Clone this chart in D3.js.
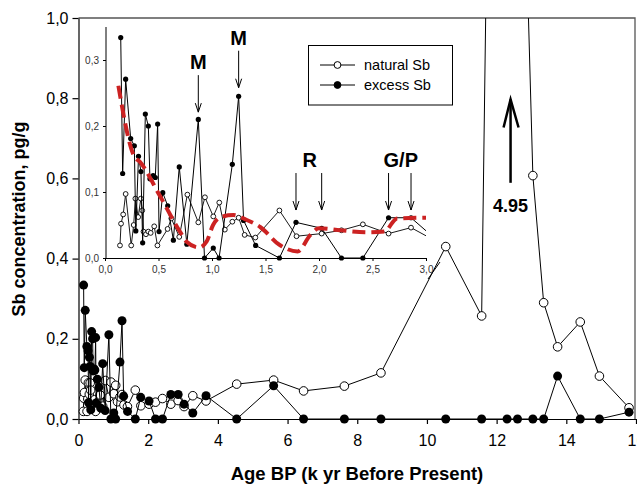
<!DOCTYPE html>
<html>
<head>
<meta charset="utf-8">
<script src="https://cdn.jsdelivr.net/npm/d3@7"></script>
<style>
  body { margin: 0; background: #fff; }
  svg { display: block; font-family: "Liberation Sans", Arial, sans-serif; }
</style>
</head>
<body>
<svg id="chart" width="637" height="484"></svg>
<script>
// natural Sb [age k yr BP, pg/g]
const naturalSb = [
  [0.14, 0.019], [0.15, 0.052], [0.17, 0.066], [0.193, 0.097], [0.245, 0.019],
  [0.268, 0.05], [0.284, 0.09], [0.31, 0.062], [0.335, 0.09], [0.348, 0.072],
  [0.36, 0.04], [0.383, 0.036], [0.405, 0.04], [0.427, 0.038], [0.46, 0.048],
  [0.49, 0.019], [0.585, 0.044], [0.62, 0.06], [0.694, 0.032], [0.77, 0.096],
  [0.872, 0.054], [0.934, 0.092], [1.012, 0.063], [1.068, 0.084], [1.12, 0.043],
  [1.19, 0.055], [1.249, 0.061], [1.305, 0.035], [1.405, 0.031], [1.63, 0.072],
  [1.79, 0.033], [2.025, 0.037], [2.21, 0.042], [2.41, 0.051], [2.65, 0.037],
  [2.86, 0.046], [3.03, 0.031], [3.28, 0.058], [3.66, 0.045], [4.54, 0.087],
  [5.6, 0.097], [6.46, 0.07], [7.63, 0.082], [8.68, 0.115], [10.54, 0.43],
  [11.57, 0.257], [12.3, 4.95], [12.6, 1.98], [13.04, 0.607], [13.35, 0.29],
  [13.75, 0.18], [14.4, 0.242], [14.95, 0.107], [15.8, 0.028]
];

// excess Sb [age k yr BP, pg/g]
const excessSb = [
  [0.147, 0.334], [0.165, 0.128], [0.193, 0.271], [0.24, 0.181], [0.274, 0.17],
  [0.288, 0.041], [0.313, 0.154], [0.336, 0.131], [0.352, 0.023], [0.377, 0.218],
  [0.405, 0.2], [0.42, 0.12], [0.45, 0.125], [0.47, 0.122], [0.492, 0.203],
  [0.505, 0.04], [0.54, 0.099], [0.586, 0.079], [0.639, 0.027], [0.694, 0.138],
  [0.765, 0.021], [0.872, 0.21], [0.93, 0], [1.012, 0.015], [1.066, 0],
  [1.19, 0.142], [1.249, 0.245], [1.295, 0.057], [1.408, 0.019], [1.63, 0],
  [1.785, 0.054], [2.025, 0.045], [2.21, 0], [2.41, 0], [2.65, 0.061],
  [2.86, 0.061], [3.03, 0.037], [3.28, 0.015], [3.66, 0.058], [4.54, 0],
  [5.6, 0.083], [6.46, 0], [7.63, 0], [8.68, 0], [10.54, 0], [11.57, 0],
  [12.3, 0], [12.6, 0], [13.04, 0], [13.35, 0], [13.75, 0.107], [14.4, 0],
  [14.95, 0], [15.8, 0.017]
];

// red dashed trend in the inset
const trendLine = [
  [0.125, 0.261], [0.27, 0.155], [0.33, 0.145], [0.51, 0.095], [0.7, 0.04],
  [0.76, 0.025], [0.88, 0.016], [0.95, 0.025], [1.01, 0.05], [1.08, 0.062],
  [1.2, 0.065], [1.32, 0.058], [1.45, 0.047], [1.63, 0.02], [1.8, 0.01],
  [1.92, 0.035], [2.0, 0.045], [2.2, 0.042], [2.46, 0.039], [2.61, 0.04],
  [2.73, 0.06], [3.0, 0.061]
];

const mainXTicks = [0, 2, 4, 6, 8, 10, 12, 14, 16];
const mainYTicks = [0, 0.2, 0.4, 0.6, 0.8, 1.0];
const insetXTicks = [0, 0.5, 1, 1.5, 2, 2.5, 3];
const insetYTicks = [0, 0.1, 0.2, 0.3];

// event labels (ages the arrows point at)
const events = [
  { label: 'M', ages: [0.872] },
  { label: 'M', ages: [1.249] },
  { label: 'R', ages: [1.785, 2.025] },
  { label: 'G/P', ages: [2.65, 2.86] }
];

const svg = d3.select('#chart');
const comma = d => d3.format('.1f')(d).replace('.', ',');
const FONT = '"Liberation Sans", Arial, sans-serif';

// ---- main plot ----
const x = d3.scaleLinear().domain([0, 16]).range([78.5, 636]);
const y = d3.scaleLinear().domain([0, 1]).range([419, 18]);

const defs = svg.append('defs');
defs.append('clipPath').attr('id', 'clipMain')
  .append('rect').attr('x', 70).attr('y', 18).attr('width', 580).attr('height', 410);

// frame
svg.append('path')
  .attr('d', `M${x(0)},${y(1)}H${x(16) - 1}V${y(0)}`)
  .attr('fill', 'none').attr('stroke', '#555').attr('stroke-width', 1.3);

const xAxis = svg.append('g').attr('transform', `translate(0,${y(0)})`)
  .call(d3.axisBottom(x).tickValues(mainXTicks).tickSize(5).tickSizeOuter(0).tickPadding(11).tickFormat(d3.format('d')));
const yAxis = svg.append('g').attr('transform', `translate(${x(0)},0)`)
  .call(d3.axisLeft(y).tickValues(mainYTicks).tickSize(6).tickSizeOuter(0).tickPadding(4).tickFormat(comma));
[xAxis, yAxis].forEach(g => {
  g.select('.domain').attr('stroke', '#000').attr('stroke-width', 1.2);
  g.selectAll('.tick line').attr('stroke', '#000').attr('stroke-width', 1.2);
  g.selectAll('text').attr('font-size', 16).attr('fill', '#000').attr('font-family', FONT);
});

svg.append('text').attr('x', 357).attr('y', 480).attr('text-anchor', 'middle')
  .attr('font-size', 18.5).attr('font-weight', 'bold').text('Age BP (k yr Before Present)');
svg.append('text').attr('transform', 'translate(25,219) rotate(-90)').attr('text-anchor', 'middle')
  .attr('font-size', 18).attr('font-weight', 'bold').text('Sb concentration, pg/g');

const mainLine = d3.line().x(d => x(d[0])).y(d => y(d[1]));
const mainG = svg.append('g').attr('clip-path', 'url(#clipMain)');

mainG.append('path').datum(naturalSb).attr('d', mainLine)
  .attr('fill', 'none').attr('stroke', '#000').attr('stroke-width', 1);
mainG.selectAll('circle.nat').data(naturalSb).join('circle').attr('class', 'nat')
  .attr('cx', d => x(d[0])).attr('cy', d => y(d[1])).attr('r', 4.3)
  .attr('fill', '#fff').attr('stroke', '#000').attr('stroke-width', 1);
mainG.append('path').datum(excessSb).attr('d', mainLine)
  .attr('fill', 'none').attr('stroke', '#000').attr('stroke-width', 1);
mainG.selectAll('circle.exc').data(excessSb).join('circle').attr('class', 'exc')
  .attr('cx', d => x(d[0])).attr('cy', d => y(d[1])).attr('r', 4.5)
  .attr('fill', '#000');

// 4.95 arrow
const peakX = x(12.4);
svg.append('line').attr('x1', peakX).attr('x2', peakX).attr('y1', y(0.589)).attr('y2', y(0.797))
  .attr('stroke', '#000').attr('stroke-width', 2.5);
svg.append('path').attr('d', `M${peakX - 7},${y(0.727)}L${peakX},${y(0.797)}L${peakX + 8},${y(0.727)}`)
  .attr('fill', 'none').attr('stroke', '#000').attr('stroke-width', 2.5);
svg.append('text').attr('x', peakX).attr('y', y(0.516)).attr('text-anchor', 'middle')
  .attr('font-size', 18).attr('font-weight', 'bold').text('4.95');

// legend
const leg = svg.append('g');
leg.append('rect').attr('x', 308.5).attr('y', 45.5).attr('width', 144).attr('height', 59.5)
  .attr('fill', '#fff').attr('stroke', '#000').attr('stroke-width', 1);
[['natural Sb', '#fff'], ['excess Sb', '#000']].forEach(([name, fill], i) => {
  const ly = 65 + i * 20;
  leg.append('line').attr('x1', 320).attr('x2', 355).attr('y1', ly).attr('y2', ly).attr('stroke', '#000');
  leg.append('circle').attr('cx', 337.5).attr('cy', ly).attr('r', 3.4).attr('fill', fill).attr('stroke', '#000');
  leg.append('text').attr('x', 364).attr('y', ly + 5).attr('font-size', 14.5).text(name);
});

// ---- inset ----
const ix = d3.scaleLinear().domain([0, 3]).range([105, 426]);
const iy = d3.scaleLinear().domain([0, 0.35]).range([258, 27]);

defs.append('clipPath').attr('id', 'clipInset')
  .append('rect').attr('x', 95).attr('y', 20).attr('width', ix(3) - 95).attr('height', 250);

const ixAxis = svg.append('g').attr('transform', `translate(0,${iy(0)})`)
  .call(d3.axisBottom(ix).tickValues(insetXTicks).tickSize(3).tickSizeOuter(0).tickPadding(5).tickFormat(comma));
const iyAxis = svg.append('g').attr('transform', `translate(${ix(0) + 1},0)`)
  .call(d3.axisLeft(iy).tickValues(insetYTicks).tickSize(3).tickSizeOuter(0).tickPadding(4).tickFormat(comma));
iyAxis.select('.domain').attr('d', `M0,${iy(0.35)}V${iy(0)}`);
[ixAxis, iyAxis].forEach(g => {
  g.select('.domain').attr('stroke', '#000').attr('stroke-width', 1);
  g.selectAll('.tick line').attr('stroke', '#000');
  g.selectAll('text').attr('font-size', 10).attr('fill', '#333').attr('font-family', FONT);
});
// axis break slash
svg.append('line').attr('x1', ix(3) + 2).attr('y1', iy(0) + 21).attr('x2', ix(3) + 14).attr('y2', iy(0) + 4)
  .attr('stroke', '#000').attr('stroke-width', 1);

const insetLine = d3.line().x(d => ix(d[0])).y(d => iy(d[1]));
const insetG = svg.append('g').attr('clip-path', 'url(#clipInset)');

insetG.append('path').datum(naturalSb).attr('d', insetLine)
  .attr('fill', 'none').attr('stroke', '#000').attr('stroke-width', 0.9);
insetG.selectAll('circle.nat').data(naturalSb.filter(d => d[0] <= 3)).join('circle').attr('class', 'nat')
  .attr('cx', d => ix(d[0])).attr('cy', d => iy(d[1])).attr('r', 2.4)
  .attr('fill', '#fff').attr('stroke', '#000').attr('stroke-width', 0.9);
insetG.append('path').datum(excessSb).attr('d', insetLine)
  .attr('fill', 'none').attr('stroke', '#000').attr('stroke-width', 1);
insetG.selectAll('circle.exc').data(excessSb.filter(d => d[0] <= 3)).join('circle').attr('class', 'exc')
  .attr('cx', d => ix(d[0])).attr('cy', d => iy(d[1])).attr('r', 2.6)
  .attr('fill', '#000');

insetG.append('path').datum(trendLine)
  .attr('d', d3.line().x(d => ix(d[0])).y(d => iy(d[1])).curve(d3.curveMonotoneX))
  .attr('fill', 'none').attr('stroke', '#cc2222').attr('stroke-width', 4)
  .attr('stroke-dasharray', '13,6');

// event arrows
const eventTips = [0.221, 0.258, 0.0727, 0.0727];
events.forEach((ev, i) => {
  const tip = iy(eventTips[i]);
  const top = tip - 37;
  ev.ages.forEach(a => {
    const ax = ix(a);
    svg.append('line').attr('x1', ax).attr('x2', ax).attr('y1', top).attr('y2', tip)
      .attr('stroke', '#000').attr('stroke-width', 1);
    svg.append('path').attr('d', `M${ax - 3},${tip - 9}L${ax},${tip}L${ax + 3},${tip - 9}`)
      .attr('fill', 'none').attr('stroke', '#000').attr('stroke-width', 1);
  });
  const cx = ev.ages.length > 1 ? (ix(ev.ages[0]) + ix(ev.ages[1])) / 2 + 1 : ix(ev.ages[0]);
  svg.append('text').attr('x', cx).attr('y', top - 6).attr('text-anchor', 'middle')
    .attr('font-size', 20).attr('font-weight', 'bold').text(ev.label);
});
</script>
</body>
</html>
